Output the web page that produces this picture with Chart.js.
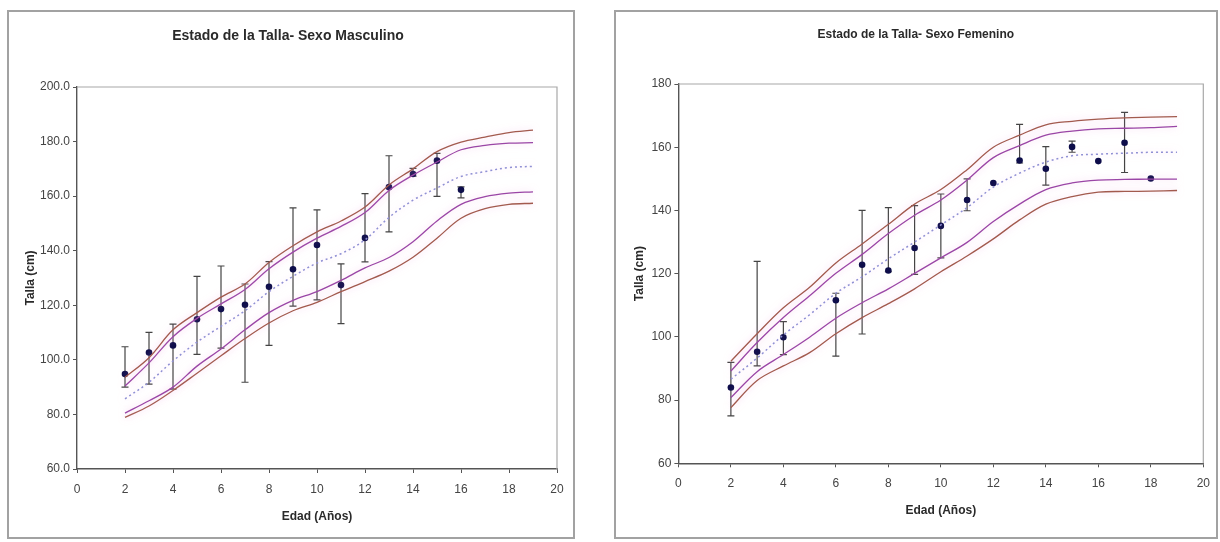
<!DOCTYPE html>
<html>
<head>
<meta charset="utf-8">
<script src="https://cdn.jsdelivr.net/npm/chart.js@4.4.1/dist/chart.umd.min.js"></script>
<style>
    body { margin: 0; background: #fff; width: 1220px; height: 542px; overflow: hidden; position: relative; }
    .box { position: absolute; border: 2px solid #a2a2a2; box-sizing: border-box; }
    canvas { position: absolute; top: 0; }
</style>
</head>
<body>
<div class="box" style="left:7px;top:10px;width:568px;height:529px"></div>
<div class="box" style="left:614px;top:10px;width:604px;height:529px"></div>
<canvas id="chartM" width="610" height="542" style="left:0"></canvas>
<canvas id="chartF" width="610" height="542" style="left:610px"></canvas>

<script>
// edades de las curvas de referencia
const refAges = [2, 3, 4, 5, 6, 7, 8, 9, 10, 11, 12, 13, 14, 15, 16, 17, 18, 19];

// varones - curvas de referencia
const refMUp2 = [93.6, 100.8, 111.0, 117.3, 123.0, 127.8, 135.7, 141.8, 146.9, 150.9, 156.0, 164.1, 170.0, 176.3, 179.8, 181.6, 183.3, 184.2];
const refMUp1 = [90.4, 98.9, 108.5, 115.2, 120.5, 125.8, 133.4, 139.5, 144.6, 148.9, 154.0, 162.1, 167.7, 172.5, 177.0, 178.6, 179.4, 179.6];
const refMMed = [85.7, 91.8, 99.6, 106.5, 112.3, 118.0, 125.0, 130.6, 135.5, 138.9, 144.0, 152.2, 158.5, 163.0, 167.2, 169.0, 170.5, 170.9];
const refMLo1 = [80.5, 85.0, 90.0, 97.7, 104.0, 111.0, 117.3, 121.8, 125.0, 129.1, 133.7, 137.5, 143.3, 150.9, 157.0, 159.8, 161.1, 161.6];
const refMLo2 = [78.9, 83.1, 88.8, 95.1, 101.5, 107.8, 113.5, 118.0, 121.1, 125.0, 128.7, 132.5, 137.6, 144.6, 151.9, 155.4, 157.0, 157.4];

// varones - talla observada
const agesM = [2, 3, 4, 5, 6, 7, 8, 9, 10, 11, 12, 13, 14, 15, 16];
const tallaM = [94.8, 102.7, 105.3, 114.9, 118.6, 120.2, 126.8, 133.2, 142.1, 127.4, 144.7, 163.3, 168.1, 173.0, 162.3];
const tallaMHi = [104.8, 110.1, 113.1, 130.6, 134.4, 127.8, 136.0, 155.7, 155.0, 135.2, 160.9, 174.8, 170.2, 175.7, 163.4];
const tallaMLo = [90.0, 91.1, 89.3, 102.0, 104.3, 91.8, 105.3, 119.7, 122.0, 113.3, 135.9, 146.9, 167.3, 159.9, 159.4];

// mujeres - curvas de referencia
const refFUp2 = [92.3, 101.0, 109.2, 115.7, 123.4, 129.4, 135.6, 142.0, 146.6, 152.9, 160.0, 163.8, 167.1, 168.2, 168.9, 169.3, 169.5, 169.7];
const refFUp1 = [89.2, 98.2, 106.1, 113.0, 120.1, 126.1, 132.7, 138.5, 143.3, 149.6, 156.7, 160.5, 163.8, 165.1, 165.8, 166.0, 166.2, 166.6];
const refFMed = [86.6, 93.3, 100.6, 107.0, 113.8, 119.0, 124.7, 130.0, 135.4, 140.9, 147.4, 151.8, 155.3, 157.3, 157.8, 158.1, 158.4, 158.4];
const refFLo1 = [80.8, 89.0, 94.4, 99.9, 105.9, 110.8, 115.2, 120.1, 125.0, 129.9, 136.5, 142.0, 146.6, 148.7, 149.6, 149.8, 149.9, 149.9];
const refFLo2 = [77.6, 86.2, 90.8, 95.0, 101.0, 106.1, 110.5, 115.2, 120.6, 125.6, 131.0, 137.0, 142.0, 144.4, 145.8, 146.0, 146.1, 146.3];

// mujeres - talla observada
const agesF = [2, 3, 4, 6, 7, 8, 9, 10, 11, 12, 13, 14, 15, 16, 17, 18];
const tallaF = [84.0, 95.3, 99.9, 111.6, 122.8, 121.0, 128.1, 135.1, 143.3, 148.7, 155.8, 153.2, 160.1, 155.6, 161.4, 150.1];
const tallaFHi = [91.9, 123.9, 104.8, 113.8, 140.0, 140.9, 141.5, 145.2, 150.0, null, 167.2, 160.2, 161.9, null, 171.0, null];
const tallaFLo = [75.0, 90.8, 94.4, 93.9, 100.9, 120.6, 119.8, 125.0, 139.9, null, 155.0, 148.0, 158.4, null, 152.0, null];

// eje x
const xTicks = [0, 2, 4, 6, 8, 10, 12, 14, 16, 18, 20];

const narrow = "'Liberation Sans Narrow', 'Arial Narrow', 'Liberation Sans', Arial, sans-serif";

const toXY = (xs, ys) => xs.map((x, i) => ({ x: x, y: ys[i] }));

// marco gris del área de trazado + barras de error
const plotFrame = {
    id: 'plotFrame',
    beforeDatasetsDraw(chart) {
        const { ctx, chartArea: a } = chart;
        ctx.save();
        ctx.strokeStyle = '#a8a8a8';
        ctx.lineWidth = 1.2;
        ctx.beginPath();
        ctx.moveTo(a.left, a.top);
        ctx.lineTo(a.right, a.top);
        ctx.lineTo(a.right, a.bottom);
        ctx.stroke();
        ctx.restore();
    },
    beforeDatasetDraw(chart, args) {
        const ds = chart.data.datasets[args.index];
        const ctx = chart.ctx;
        if (ds.glow) {
            ctx.save();
            ctx.shadowColor = 'rgba(240, 160, 222, 0.55)';
            ctx.shadowBlur = 7;
        }
        if (ds.errHi) {
            const xs = chart.scales.x, ys = chart.scales.y;
            ctx.save();
            ctx.strokeStyle = '#444';
            ctx.lineWidth = 1.2;
            ds.data.forEach((p, i) => {
                if (ds.errHi[i] == null) return;
                const px = xs.getPixelForValue(p.x);
                const top = ys.getPixelForValue(ds.errHi[i]);
                const bot = ys.getPixelForValue(ds.errLo[i]);
                ctx.beginPath();
                ctx.moveTo(px, top); ctx.lineTo(px, bot);
                ctx.moveTo(px - 3.5, top); ctx.lineTo(px + 3.5, top);
                ctx.moveTo(px - 3.5, bot); ctx.lineTo(px + 3.5, bot);
                ctx.stroke();
            });
            ctx.restore();
        }
    },
    afterDatasetDraw(chart, args) {
        if (chart.data.datasets[args.index].glow) chart.ctx.restore();
    }
};

function refLine(data, color, dashed) {
    return {
        data: toXY(refAges, data),
        borderColor: color,
        borderWidth: dashed ? 1.5 : 1.3,
        borderDash: dashed ? [2, 3] : [],
        pointRadius: 0,
        tension: 0.35,
        fill: false,
        glow: true
    };
}

function makeChart(el, c) {
    return new Chart(el, {
        type: 'line',
        data: {
            datasets: [
                refLine(c.up2, '#a25a4e'),
                refLine(c.up1, '#9a46a6'),
                refLine(c.med, '#9090d4', true),
                refLine(c.lo1, '#9a46a6'),
                refLine(c.lo2, '#a25a4e'),
                {
                    data: toXY(c.ages, c.talla),
                    errHi: c.hi,
                    errLo: c.lo,
                    showLine: false,
                    pointRadius: 3.3,
                    pointBackgroundColor: '#0d0d4a',
                    pointBorderColor: '#0d0d4a',
                    pointBorderWidth: 0
                }
            ]
        },
        options: {
            responsive: false,
            animation: false,
            devicePixelRatio: 1,
            layout: { padding: c.pad },
            plugins: {
                legend: { display: false },
                tooltip: { enabled: false },
                title: {
                    display: true,
                    text: c.title,
                    color: '#2a2a2a',
                    font: { family: narrow, size: c.titleSize, weight: 'bold' },
                    padding: c.titlePad
                }
            },
            scales: {
                x: {
                    type: 'linear',
                    min: 0, max: 20,
                    afterBuildTicks: (s) => { s.ticks = xTicks.map(v => ({ value: v })); },
                    afterFit: (s) => { s.height = c.xH; },
                    border: { color: '#555', width: 1.4 },
                    grid: { drawOnChartArea: false, tickLength: 4, color: '#555' },
                    ticks: { color: '#444', padding: c.xTickPad, maxRotation: 0, font: { family: narrow, size: 12 } },
                    title: {
                        display: true, text: 'Edad (Años)', color: '#2a2a2a',
                        font: { family: narrow, size: 12, weight: 'bold' },
                        padding: { top: 2, bottom: c.xTitlePad }
                    }
                },
                y: {
                    min: c.yMin, max: c.yMax,
                    afterBuildTicks: (s) => { s.ticks = c.yTicks.map(v => ({ value: v })); },
                    afterFit: (s) => { s.width = c.yW; },
                    border: { color: '#555', width: 1.4 },
                    grid: { drawOnChartArea: false, tickLength: 4, color: '#555' },
                    ticks: { color: '#444', padding: 3, font: { family: narrow, size: 12 }, callback: c.yFmt },
                    title: {
                        display: true, text: 'Talla (cm)', color: '#2a2a2a',
                        font: { family: narrow, size: 12, weight: 'bold' },
                        padding: { top: 4.5, bottom: 2 }
                    }
                }
            }
        },
        plugins: [plotFrame]
    });
}

makeChart(document.getElementById('chartM'), {
    title: 'Estado de la Talla- Sexo Masculino',
    titleSize: 14,
    titlePad: { top: 27.6, bottom: 42.6 },
    pad: { left: 19, right: 53, top: 0, bottom: 0 },
    yW: 58, xH: 73, xTickPad: 9, xTitlePad: 18,
    yMin: 60, yMax: 200,
    yTicks: [60, 80, 100, 120, 140, 160, 180, 200],
    yFmt: (v) => v.toFixed(1),
    ages: agesM, talla: tallaM, hi: tallaMHi, lo: tallaMLo,
    up2: refMUp2, up1: refMUp1, med: refMMed, lo1: refMLo1, lo2: refMLo2
});

makeChart(document.getElementById('chartF'), {
    title: 'Estado de la Talla- Sexo Femenino',
    titleSize: 12,
    titlePad: { top: 27.8, bottom: 41.8 },
    pad: { left: 18.4, right: 16.7, top: 0, bottom: 0 },
    yW: 50, xH: 78.7, xTickPad: 9, xTitlePad: 24,
    yMin: 60, yMax: 180,
    yTicks: [60, 80, 100, 120, 140, 160, 180],
    yFmt: (v) => String(v),
    ages: agesF, talla: tallaF, hi: tallaFHi, lo: tallaFLo,
    up2: refFUp2, up1: refFUp1, med: refFMed, lo1: refFLo1, lo2: refFLo2
});
</script>
</body>
</html>
